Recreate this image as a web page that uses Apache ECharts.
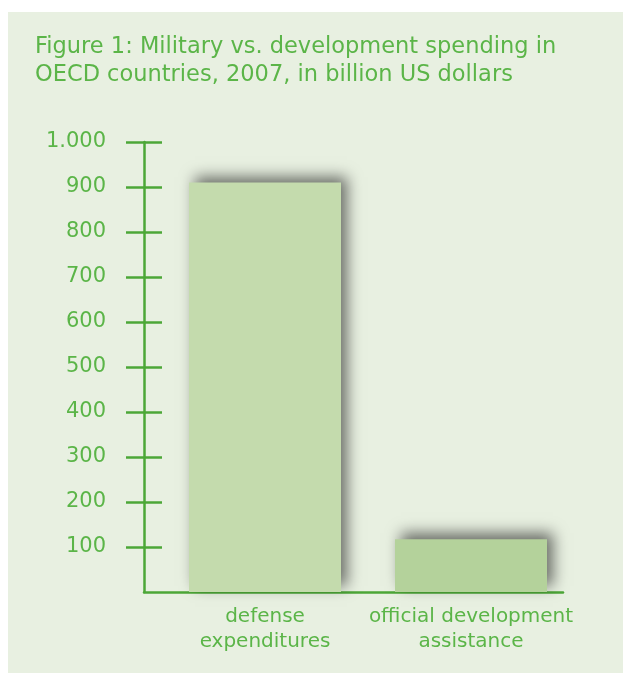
<!DOCTYPE html>
<html>
<head>
<meta charset="utf-8">
<script src="https://cdn.jsdelivr.net/npm/echarts@6/dist/echarts.min.js"></script>
<style>
html,body{margin:0;padding:0;background:#ffffff;}
#chart{width:623px;height:673px;}
</style>
</head>
<body>
<div id="chart"></div>
<script>
// ---- data ----
var categories = ['defense\nexpenditures', 'official development\nassistance'];
var values = [910, 117];
var yMin = 0, yMax = 1000, yStep = 100;
var titleText = 'Figure 1: Military vs. development spending in\nOECD countries, 2007, in billion US dollars';

// ---- styles ----
var barColors = ['#c4dbad', '#b4d29b'];
var axisColor = '#4ca737';
var textColor = '#5bb548';
var fontFam = 'DejaVu Sans';

var chart = echarts.init(document.getElementById('chart'), null, {renderer:'canvas'});
chart.setOption({
  animation: false,
  backgroundColor: '#ffffff',
  graphic: [{
    type: 'rect', z: -10, silent: true,
    shape: {x: 8, y: 12, width: 615, height: 661},
    style: {fill: '#e8f0e1'}
  }],
  title: {
    text: titleText,
    left: 30, top: 28,
    textStyle: {color: textColor, fontSize: 22.5, fontWeight: 'normal', fontFamily: fontFam, lineHeight: 28}
  },
  grid: [
    {left: 144, top: 142, width: 419, height: 450},
    {left: 162, top: 142, width: 412, height: 450},
    {left: 126, top: 142, width: 36, height: 405}
  ],
  xAxis: [
    {gridIndex: 0, type: 'category', data: categories,
     axisLine: {show: true, lineStyle: {color: axisColor, width: 2.5}},
     axisTick: {show: false}, axisLabel: {show: false}},
    {gridIndex: 1, type: 'category', data: categories,
     axisLine: {show: false}, axisTick: {show: false},
     axisLabel: {color: textColor, fontSize: 20, fontFamily: fontFam, lineHeight: 25, margin: 12, interval: 0}},
    {gridIndex: 2, type: 'category', data: ['a'], show: false}
  ],
  yAxis: [
    {gridIndex: 0, type: 'value', min: yMin, max: yMax, interval: yStep,
     axisLine: {show: true, lineStyle: {color: axisColor, width: 2.5}},
     axisTick: {show: false}, axisLabel: {show: false}, splitLine: {show: false}},
    {gridIndex: 1, type: 'value', min: yMin, max: yMax, interval: yStep, show: false},
    {gridIndex: 2, type: 'value', min: yStep, max: yMax, interval: yStep,
     axisLine: {show: false}, axisTick: {show: false},
     splitLine: {show: true, lineStyle: {color: axisColor, width: 2.5}},
     axisLabel: {color: textColor, fontSize: 21, fontFamily: fontFam, margin: 20,
       formatter: function (v) { return v >= 1000 ? (v / 1000).toFixed(0) + '.' + String(v % 1000).padStart(3, '0') : String(v); }}}
  ],
  series: [{
    type: 'bar', xAxisIndex: 1, yAxisIndex: 1,
    barWidth: 152,
    data: values.map(function (v, i) {
      return {value: v, itemStyle: {color: barColors[i]}};
    }),
    itemStyle: {shadowBlur: 14, shadowColor: 'rgba(0,0,0,0.55)', shadowOffsetX: 6, shadowOffsetY: -6}
  }]
});
</script>
</body>
</html>
